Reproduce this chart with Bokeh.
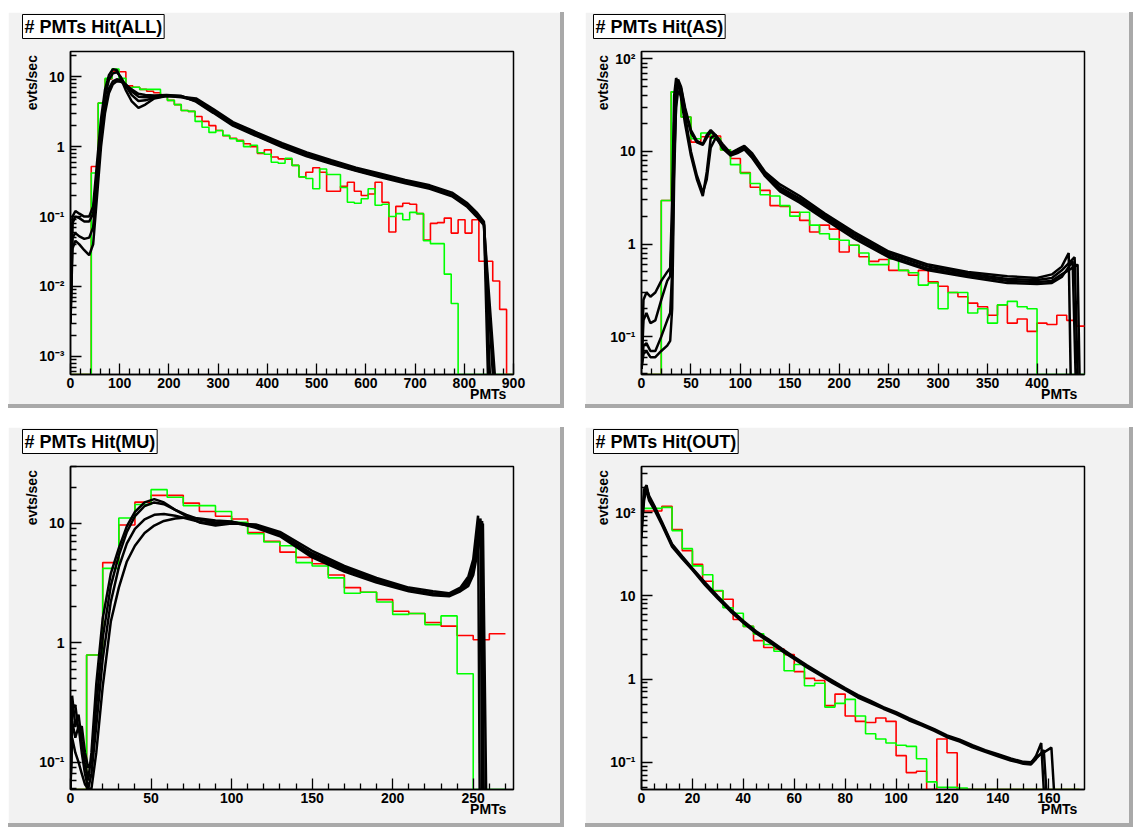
import numpy as np
from bokeh.plotting import figure
from bokeh.models import FixedTicker, Title
from bokeh.layouts import column, row
from bokeh.embed import file_html
from bokeh.resources import INLINE

# ---------------------------------------------------------------- data
# Panel ALL: 64 bins over 0..900
ALL_NBINS = 64
ALL_RED = [0, 0, 0, 0.52, 4.2, 9.3, 12, 11.8, 7.4, 7.1, 6.6, 6.2, 5.9, 5.5, 4.6, 4.0,
           3.3, 3.2, 2.7, 2.3, 2.0, 1.7, 1.43, 1.32, 1.23, 1.1, 1.0, 0.8, 0.9, 0.71, 0.67, 0.66,
           0.54, 0.37, 0.43, 0.5, 0.43, 0.23, 0.23, 0.27, 0.31, 0.23, 0.2, 0.21, 0.31, 0.16,
           0.06, 0.14, 0.155, 0.15, 0.11, 0.046, 0.08, 0.082, 0.095, 0.058, 0.09, 0.058, 0.09,
           0.023, 0.023, 0.012, 0.0047, 0]
ALL_GREEN = [0, 0, 0, 0.42, 4.2, 9.5, 12.9, 9.5, 7.0, 7.1, 6.6, 6.6, 6.6, 5.3, 4.6, 4.0,
             3.3, 3.2, 2.3, 1.9, 1.6, 1.7, 1.45, 1.3, 1.2, 1.0, 1.05, 0.82, 0.78, 0.6, 0.58, 0.68,
             0.54, 0.37, 0.35, 0.25, 0.48, 0.4, 0.4, 0.26, 0.16, 0.155, 0.18, 0.25, 0.145, 0.15,
             0.1, 0.11, 0.09, 0.115, 0.11, 0.045, 0.041, 0.041, 0.015, 0.0057, 0, 0, 0, 0,
             0, 0, 0, 0]
ALL_X = [0, 4, 10, 18, 28, 38, 46, 54, 62, 70, 78, 86, 94, 102, 112, 124, 138, 152, 170,
         195, 225, 255, 290, 330, 380, 430, 480, 530, 580, 630, 680, 730, 775, 805, 825, 840]
ALL_BLACK = [
    [0.004, 0.1, 0.12, 0.11, 0.1, 0.1, 0.14, 0.6, 2.5, 6.5, 10.5, 12.8, 12.5, 9.5, 6.5, 4.5,
     3.6, 4.0, 4.9, 5.3, 5.2, 4.9, 3.45, 2.25, 1.58, 1.12, 0.83, 0.64, 0.5, 0.41, 0.335,
     0.28, 0.22, 0.158, 0.115, 0.084],
    [0.004, 0.08, 0.1, 0.095, 0.085, 0.085, 0.11, 0.45, 1.9, 5.2, 9.0, 11.2, 11.6, 10.0, 7.5,
     5.5, 4.5, 4.6, 5.0, 5.3, 5.1, 4.6, 3.25, 2.12, 1.48, 1.05, 0.78, 0.6, 0.475, 0.385,
     0.318, 0.265, 0.205, 0.148, 0.105, 0.077],
    [0.003, 0.05, 0.058, 0.052, 0.048, 0.05, 0.07, 0.3, 1.3, 3.8, 6.8, 8.6, 9.2, 9.0, 7.8,
     6.2, 5.2, 5.1, 5.2, 5.4, 5.3, 4.5, 3.15, 2.05, 1.43, 1.02, 0.76, 0.585, 0.46, 0.375,
     0.31, 0.258, 0.2, 0.145, 0.108, 0.079],
    [0.003, 0.035, 0.045, 0.04, 0.033, 0.028, 0.04, 0.2, 1.0, 3.0, 5.8, 7.8, 8.6, 8.5, 7.8,
     6.6, 5.7, 5.5, 5.4, 5.5, 5.3, 4.4, 3.05, 2.0, 1.4, 0.99, 0.73, 0.57, 0.45, 0.365, 0.3,
     0.25, 0.195, 0.14, 0.1, 0.075],
]
ALL_TAIL_X = [[848], [852], [858], [862]]
ALL_TAIL_Y = [[0], [0], [0], [0]]

# Panel AS: 45 bins over 0..450
AS_NBINS = 45
AS_RED = [0, 0, 2.95, 44, 23.5, 12.6, 14.4, 14.7, 10.4, 8.4, 5.9, 4.1, 3.8, 2.6, 2.55, 2.2,
          1.8, 1.35, 1.6, 1.45, 0.82, 0.97, 0.73, 0.65, 0.68, 0.52, 0.52, 0.46, 0.52, 0.39,
          0.35, 0.3, 0.27, 0.23, 0.21, 0.17, 0.22, 0.14, 0.155, 0.114, 0.14, 0.135, 0.17,
          0.15, 0.13]
AS_GREEN = [0, 0, 2.95, 44, 23.5, 13.7, 15.8, 13.9, 10.4, 7.2, 5.8, 4.5, 3.4, 3.3, 2.6, 2.0,
            2.2, 1.6, 1.29, 1.13, 1.1, 0.97, 0.8, 0.6, 0.6, 0.69, 0.52, 0.49, 0.36, 0.38,
            0.2, 0.3, 0.3, 0.18, 0.2, 0.14, 0.22, 0.24, 0.21, 0.2, 0, 0, 0, 0, 0]
AS_X = [0, 2, 5, 9, 14, 20, 26, 29, 31, 33, 35, 37, 40, 44, 50, 56, 62, 66, 70, 75, 82,
        90, 97, 104, 112, 125, 140, 160, 185, 215, 250, 290, 330, 370, 400, 415, 425]
AS_BLACK = [
    [0.045, 0.25, 0.3, 0.27, 0.3, 0.4, 0.5, 0.55, 3.0, 40, 62, 55, 38, 20, 9, 5, 3.3, 6, 14,
     15, 12, 9.6, 10.5, 11.5, 9.5, 6.0, 4.4, 3.3, 2.15, 1.35, 0.83, 0.6, 0.5, 0.45, 0.43,
     0.47, 0.57],
    [0.045, 0.15, 0.18, 0.14, 0.15, 0.25, 0.4, 0.45, 1.5, 20, 45, 60, 50, 30, 17, 13, 12,
     15, 17, 15, 11, 9.3, 10, 11, 9.0, 5.8, 4.1, 3.1, 2.05, 1.28, 0.79, 0.57, 0.48, 0.42,
     0.41, 0.43, 0.52],
    [0.045, 0.08, 0.085, 0.07, 0.07, 0.1, 0.15, 0.18, 0.5, 8, 30, 45, 40, 25, 10, 5.5, 3.6,
     5, 11, 14, 11.5, 9.2, 9.8, 10.7, 8.7, 5.6, 3.9, 2.95, 1.95, 1.22, 0.75, 0.54, 0.46,
     0.4, 0.39, 0.4, 0.47],
    [0.045, 0.065, 0.07, 0.06, 0.06, 0.07, 0.08, 0.09, 0.2, 5, 35, 55, 48, 28, 16, 12.5,
     11.8, 14, 16.5, 14.5, 10.8, 9.0, 9.6, 10.5, 8.5, 5.4, 3.7, 2.8, 1.85, 1.15, 0.72, 0.52,
     0.44, 0.38, 0.37, 0.38, 0.44],
]
AS_TAIL_X = [[432, 434], [438, 441], [441, 443], [436, 439]]
AS_TAIL_Y = [[0.8, 0], [0.72, 0], [0.6, 0], [0.65, 0]]

# Panel MU: 27 bins over 0..270
MU_NBINS = 27
MU_RED = [0, 0.79, 4.7, 9.7, 15.1, 17.2, 17.2, 14.8, 12.6, 11.5, 10.9, 8.4, 7.1, 5.75, 5.2,
          4.6, 3.7, 2.9, 2.65, 2.3, 1.84, 1.76, 1.48, 1.38, 1.15, 1.06, 1.19]
MU_GREEN = [0, 0.79, 4.2, 11.1, 14.4, 19.2, 16.6, 14.1, 14.1, 12.6, 10.2, 8.2, 7.0, 6.5,
            4.7, 4.4, 3.5, 2.6, 2.65, 2.2, 1.73, 1.76, 1.42, 1.68, 0.55, 0, 0]
MU_X = [0, 1, 3, 5, 7, 9, 11, 13, 16, 20, 25, 30, 35, 40, 46, 52, 58, 65, 72, 80, 90, 100,
        115, 130, 150, 170, 190, 210, 225, 235, 242, 247, 250]
MU_BLACK = [
    [0.06, 0.36, 0.2, 0.25, 0.15, 0.1, 0.07, 0.12, 0.45, 1.6, 3.8, 6.2, 9.5, 12.5, 15, 16,
     15, 13, 11.5, 10.2, 9.6, 10.0, 9.8, 8.5, 5.9, 4.4, 3.5, 2.9, 2.7, 2.6, 2.9, 3.6, 5.0],
    [0.06, 0.28, 0.3, 0.18, 0.2, 0.12, 0.09, 0.1, 0.3, 1.1, 3.0, 5.4, 8.5, 11.5, 14, 15,
     14.5, 13, 11.8, 10.8, 10.2, 10.3, 9.6, 8.2, 5.6, 4.25, 3.4, 2.8, 2.6, 2.55, 2.8, 3.4, 4.5],
    [0.06, 0.22, 0.16, 0.2, 0.12, 0.08, 0.06, 0.08, 0.2, 0.73, 2.2, 4.3, 6.8, 9.0, 10.8,
     11.8, 12.0, 11.6, 11.0, 10.3, 9.9, 10.2, 9.4, 8.0, 5.4, 4.1, 3.3, 2.75, 2.55, 2.5, 2.75,
     3.2, 4.0],
    [0.06, 0.16, 0.12, 0.1, 0.08, 0.065, 0.06, 0.06, 0.12, 0.43, 1.5, 2.9, 4.8, 6.5, 8.3,
     9.6, 10.5, 11.0, 11.2, 11.0, 10.6, 10.4, 9.2, 7.8, 5.2, 3.95, 3.2, 2.7, 2.5, 2.45, 2.7,
     3.0, 3.7],
]
MU_TAIL_X = [[253, 254], [254.5, 255.5], [255.5, 256.5], [256, 258]]
MU_TAIL_Y = [[11.6, 0], [11, 0], [10.5, 0], [10, 0]]

# Panel OUT: 43 bins over 0..172
OUT_NBINS = 43
OUT_RED = [105, 105, 120, 63, 35, 24, 15, 11.5, 9.1, 5.2, 4.3, 2.9, 2.4, 2.3, 1.97, 1.23,
           1.02, 0.96, 0.48, 0.66, 0.36, 0.31, 0.3, 0.34, 0.31, 0.12, 0.075, 0.078, 0, 0.19,
           0.13, 0, 0, 0, 0, 0, 0, 0, 0, 0, 0, 0, 0]
OUT_GREEN = [113, 113, 116, 61, 37, 23, 18, 11.6, 7.2, 6.2, 4.3, 3.5, 2.6, 2.16, 1.26, 1.5,
             0.83, 0.89, 0.46, 0.51, 0.57, 0.36, 0.22, 0.19, 0.17, 0.16, 0.155, 0.11, 0.058,
             0.05, 0.05, 0.049, 0, 0, 0, 0, 0, 0, 0, 0, 0, 0, 0]
OUT_X = [0, 1, 2, 3, 5, 8, 12, 16, 20, 25, 30, 35, 40, 45, 50, 55, 60, 65, 70, 75, 80, 85,
         90, 95, 100, 105, 110, 115, 120, 125, 130, 135, 140, 145, 150, 153, 155]
OUT_BLACK = [
    [50, 190, 215, 150, 118, 75, 41, 29, 21, 14, 9.6, 6.7, 4.9, 3.65, 2.9, 2.27, 1.79, 1.42,
     1.15, 0.93, 0.76, 0.62, 0.53, 0.45, 0.39, 0.33, 0.285, 0.245, 0.205, 0.182, 0.155,
     0.137, 0.122, 0.108, 0.099, 0.097, 0.12],
    [80, 160, 180, 140, 110, 72, 39, 28, 20.5, 13.5, 9.3, 6.5, 4.75, 3.55, 2.82, 2.2, 1.74,
     1.38, 1.12, 0.9, 0.74, 0.6, 0.515, 0.44, 0.38, 0.32, 0.278, 0.238, 0.2, 0.177, 0.151,
     0.133, 0.118, 0.105, 0.096, 0.094, 0.11],
    [60, 140, 200, 160, 122, 78, 42, 30, 21.5, 14.5, 9.9, 6.9, 5.0, 3.75, 2.98, 2.33, 1.84,
     1.46, 1.18, 0.96, 0.78, 0.64, 0.545, 0.46, 0.4, 0.34, 0.292, 0.25, 0.21, 0.187, 0.16,
     0.14, 0.125, 0.111, 0.101, 0.1, 0.115],
]
OUT_TAIL_X = [[157, 158], [158, 159], [161, 162]]
OUT_TAIL_Y = [[0.17, 0], [0.14, 0], [0.15, 0]]

# ---------------------------------------------------------------- style
FONT = "Liberation Sans"
PAD_BG = "#f2f2f2"
BEVEL = "#a9a9a9"
RED = "#ff0000"
GREEN = "#00ff00"
SUP = {-3: "10\u207b\u00b3", -2: "10\u207b\u00b2", -1: "10\u207b\u00b9", 0: "1", 1: "10",
       2: "10\u00b2"}
FRAME_W, FRAME_H = 439, 319
# axis titles sit at the far end of their axis (ROOT style); non-breaking
# spaces shift the visible words along the axis
X_TITLE = "PMTs" + "\u00a0" * 13
Y_TITLE = "\u00a0" * 67 + "evts/sec"


def log_ticks(lo, hi):
    major, minor = [], []
    for d in range(int(np.floor(np.log10(lo))), int(np.ceil(np.log10(hi))) + 1):
        if lo <= 10.0 ** d <= hi:
            major.append(d)
        for m in range(2, 10):
            v = m * 10.0 ** d
            if lo <= v <= hi:
                minor.append(v)
    return major, minor


def panel(title, xr, x_step, x_minor_step, x_label_max, yr, nbins, bin_w, red, green,
          bx, black, tail_x, tail_y, borders, margin):
    lo, hi = yr
    left, right, top, bottom = borders
    p = figure(frame_width=FRAME_W, frame_height=FRAME_H, x_range=xr, y_range=yr,
               y_axis_type="log", output_backend="svg", toolbar_location=None,
               min_border_left=left, min_border_right=right, min_border_top=top,
               min_border_bottom=bottom, background_fill_color=PAD_BG,
               border_fill_color=PAD_BG, outline_line_color="black",
               outline_line_width=1.5, margin=margin)
    p.styles = {"border-right": f"4px solid {BEVEL}", "border-bottom": f"4px solid {BEVEL}"}
    p.grid.visible = False

    # histograms (empty bins sit on the frame bottom)
    edges = np.linspace(0, nbins * bin_w, nbins + 1)
    for vals, col in ((red, RED), (green, GREEN)):
        ys = [v if v > 0 else lo for v in vals]
        p.step(x=list(edges), y=ys + [ys[-1]], mode="after", line_color=col, line_width=1.6)

    # simulation curves
    for ys, tx, ty in zip(black, tail_x, tail_y):
        xs = list(bx) + list(tx)
        yy = list(ys) + [v if v > 0 else lo for v in ty]
        p.line(xs, yy, line_color="black", line_width=2.5)

    # axes, ROOT style ticks pointing into the frame
    xmaj = list(np.arange(0, x_label_max + 1e-9, x_step))
    xmin = [v for v in np.arange(0, xr[1] + 1e-9, x_minor_step) if v not in xmaj]
    ymaj, ymin = log_ticks(lo, hi)
    p.xaxis.ticker = FixedTicker(ticks=xmaj, minor_ticks=xmin)
    p.yaxis.ticker = FixedTicker(ticks=[10.0 ** d for d in ymaj], minor_ticks=ymin)
    p.yaxis.major_label_overrides = {10.0 ** d: SUP[d] for d in ymaj}
    for ax in (p.xaxis[0], p.yaxis[0]):
        ax.axis_line_color = "black"
        ax.axis_line_width = 1.5
        ax.major_tick_in = 11
        ax.major_tick_out = 0
        ax.minor_tick_in = 6
        ax.minor_tick_out = 0
        ax.major_tick_line_width = 1.3
        ax.minor_tick_line_width = 1.3
        ax.major_label_text_font = FONT
        ax.major_label_text_font_style = "bold"
        ax.major_label_text_font_size = "14px"
        ax.major_label_text_color = "black"
        ax.axis_label_text_font = FONT
        ax.axis_label_text_font_style = "bold"
        ax.axis_label_text_font_size = "14px"
        ax.axis_label_text_color = "black"
    if "axis_label_align" in p.xaxis[0].properties():
        p.xaxis[0].axis_label_align = "end"
    p.xaxis.major_label_standoff = 3
    p.yaxis.major_label_standoff = 6
    p.xaxis.axis_label = X_TITLE
    p.yaxis.axis_label = Y_TITLE
    p.xaxis.axis_label_standoff = -5
    p.yaxis.axis_label_standoff = -4

    # thin empty row between the frame and the title box
    p.add_layout(Title(text="\u00a0", text_font_size="1px"), "above")
    tkw = dict(text=title, align="left", offset=-48, standoff=0, vertical_align="bottom",
               text_font=FONT, text_font_style="bold", text_font_size="18px",
               text_color="black", background_fill_color="white",
               border_line_color="black", border_line_width=1)
    if "padding" in Title.properties():
        tkw["padding"] = 2
    p.add_layout(Title(**tkw), "above")
    return p


p1 = panel("# PMTs Hit(ALL)", (0, 900), 100, 20, 900, (5.5e-4, 23), ALL_NBINS,
           900 / ALL_NBINS, ALL_RED, ALL_GREEN, ALL_X, ALL_BLACK, ALL_TAIL_X, ALL_TAIL_Y,
           (62, 51, 39, 34), (12, 0, 0, 8))
p2 = panel("# PMTs Hit(AS)", (0, 448), 50, 10, 400, (0.039, 120), AS_NBINS, 10.0,
           AS_RED, AS_GREEN, AS_X, AS_BLACK, AS_TAIL_X, AS_TAIL_Y,
           (56, 49, 39, 34), (12, 0, 0, 21))
p3 = panel("# PMTs Hit(MU)", (0, 275), 50, 10, 250, (0.059, 30), MU_NBINS, 10.0,
           MU_RED, MU_GREEN, MU_X, MU_BLACK, MU_TAIL_X, MU_TAIL_Y,
           (62, 51, 38, 38), (19, 0, 0, 8))
p4 = panel("# PMTs Hit(OUT)", (0, 174), 20, 5, 160, (0.047, 360), OUT_NBINS, 4.0,
           OUT_RED, OUT_GREEN, OUT_X, OUT_BLACK, OUT_TAIL_X, OUT_TAIL_Y,
           (56, 49, 38, 38), (19, 0, 0, 21))

layout = column(row(p1, p2), row(p3, p4))
open("out.html", "w").write(file_html(layout, INLINE, title="PMTs Hit"))
